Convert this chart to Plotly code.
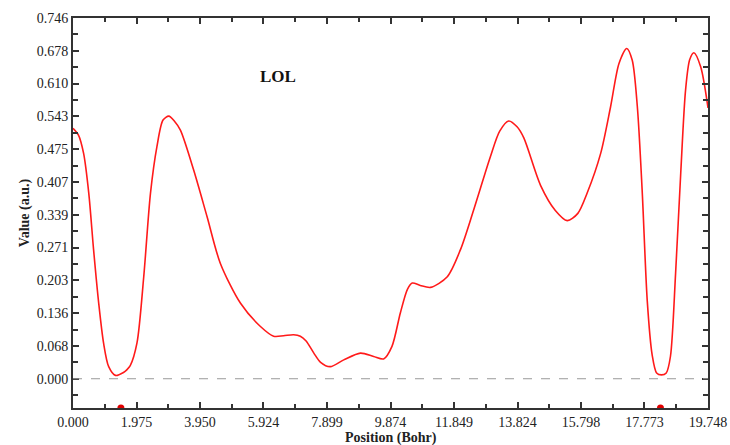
import plotly.graph_objects as go

# ---- data ----
pos = [0.00, 0.17, 0.33, 0.49, 0.64, 0.80, 0.95, 1.11, 1.32, 1.57, 1.68, 1.78, 1.99, 2.20, 2.41,
       2.61, 2.80, 2.98, 3.15, 3.34, 3.75, 4.17, 4.58, 5.21, 5.83, 6.24, 6.55, 6.86, 7.07, 7.25,
       7.49, 7.70, 8.00, 8.42, 8.94, 9.35, 9.66, 9.92, 10.18, 10.40, 10.55, 10.80, 11.12, 11.64,
       12.05, 12.46, 12.98, 13.27, 13.55, 13.81, 14.02, 14.54, 15.00, 15.37, 15.70, 15.99, 16.41, 16.72,
       16.98, 17.22, 17.39, 17.55, 17.70, 17.86, 18.01, 18.15, 18.30, 18.45, 18.58, 18.74, 18.90,
       19.05, 19.18, 19.31, 19.52, 19.748]
lol = [0.518, 0.504, 0.466, 0.384, 0.267, 0.156, 0.074, 0.025, 0.007, 0.013, 0.019, 0.027, 0.074, 0.211, 0.384,
       0.480, 0.535, 0.543, 0.533, 0.514, 0.432, 0.335, 0.239, 0.156, 0.108, 0.088, 0.089, 0.091, 0.088, 0.078,
       0.053, 0.034, 0.025, 0.039, 0.053, 0.046, 0.041, 0.067, 0.136, 0.185, 0.198, 0.193, 0.189, 0.211,
       0.267, 0.349, 0.459, 0.512, 0.533, 0.521, 0.498, 0.400, 0.348, 0.327, 0.342, 0.384, 0.466, 0.563,
       0.652, 0.683, 0.659, 0.563, 0.390, 0.160, 0.050, 0.012, 0.008, 0.012, 0.046, 0.218, 0.425,
       0.597, 0.660, 0.674, 0.645, 0.560]

critical_x = [1.49, 18.27]

x_tick_labels = ["0.000", "1.975", "3.950", "5.924", "7.899", "9.874", "11.849",
                 "13.824", "15.798", "17.773", "19.748"]
y_tick_labels = ["0.000", "0.068", "0.136", "0.203", "0.271", "0.339", "0.407",
                 "0.475", "0.543", "0.610", "0.678", "0.746"]

x_range = [0.0, 19.748]
y_range = [-0.0605, 0.746]

x_tickvals = [float(t) for t in x_tick_labels]
y_step = y_range[1] / (len(y_tick_labels) - 1)
y_tickvals = [i * y_step for i in range(len(y_tick_labels))]
x_minor = [(x_tickvals[i] + x_tickvals[i + 1]) / 2 for i in range(len(x_tickvals) - 1)]
y_minor = [v + y_step / 2 for v in y_tickvals[:-1]] + [-y_step / 2]

serif = "Liberation Serif, Times New Roman, serif"

fig = go.Figure()
fig.add_trace(go.Scatter(
    x=pos, y=lol, mode="lines",
    line=dict(color="#ff1a1a", width=1.6, shape="spline", smoothing=0.8),
    showlegend=False, hoverinfo="x+y"))
fig.add_trace(go.Scatter(
    x=critical_x, y=[y_range[0]] * len(critical_x), mode="markers",
    marker=dict(color="#e00000", size=7), cliponaxis=True,
    showlegend=False))

fig.add_hline(y=0, line=dict(color="#999999", width=1, dash="dash"))

fig.add_annotation(x=6.39, y=0.626, xref="x", yref="y", text="<b>LOL</b>",
                   showarrow=False, font=dict(family=serif, size=17, color="#111"))
fig.add_annotation(x=0.5, y=0, xref="paper", yref="paper", yanchor="top", yshift=-20,
                   text="<b>Position (Bohr)</b>", showarrow=False,
                   font=dict(family=serif, size=14, color="#222"))

axis_common = dict(
    showline=True, linecolor="#333333", linewidth=2, mirror="allticks",
    ticks="inside", ticklen=6, tickwidth=1.5, tickcolor="#333333",
    showgrid=False, zeroline=False, automargin=False,
    tickfont=dict(family=serif, size=14, color="#222222"),
)

fig.update_xaxes(
    range=x_range, tickmode="array", tickvals=x_tickvals, ticktext=x_tick_labels,
    minor=dict(tickvals=x_minor, ticks="inside", ticklen=4, tickwidth=1.5, tickcolor="#333333"),
    **axis_common)
fig.update_yaxes(
    range=y_range, tickmode="array", tickvals=y_tickvals, ticktext=y_tick_labels,
    minor=dict(tickvals=y_minor, ticks="inside", ticklen=5, tickwidth=1.5, tickcolor="#333333"),
    title=dict(text="<b>Value (a.u.)</b>", font=dict(family=serif, size=14, color="#222"), standoff=4),
    **axis_common)

fig.update_layout(
    width=730, height=445,
    margin=dict(l=73, r=22, t=18, b=37),
    paper_bgcolor="white", plot_bgcolor="white",
)

# remove the default page margin so the 730x445 figure fills the window exactly
fig.write_html("out.html", config={"displayModeBar": False},
               post_script="document.body.style.margin='0';document.body.style.overflow='hidden';")
